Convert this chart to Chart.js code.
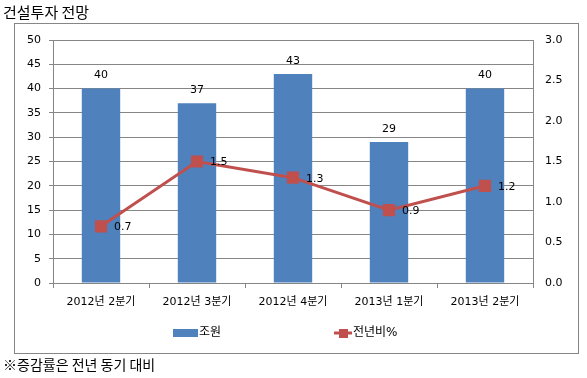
<!DOCTYPE html>
<html>
<head>
<meta charset="utf-8">
<script src="https://cdn.jsdelivr.net/npm/chart.js@4/dist/chart.umd.min.js"></script>
<style>
  body { margin: 0; background: #fff; }
  #wrap { position: relative; width: 587px; height: 378px; overflow: hidden; }
  #chart { position: absolute; left: 0; top: 0; }
  .txt { position: absolute; left: 3px; color: #000; font-family: "Noto Sans CJK KR", sans-serif; white-space: nowrap; }
  #title { top: 2px; font-size: 15px; line-height: 20px; }
  #note { top: 354px; font-size: 14px; line-height: 20px; }
</style>
</head>
<body>
<div id="wrap">
  <canvas id="chart" width="587" height="378"></canvas>
  <div id="title" class="txt">건설투자 전망</div>
  <div id="note" class="txt">※증감률은 전년 동기 대비</div>
</div>
<script>
// chart data
const quarters = ['2012년 2분기', '2012년 3분기', '2012년 4분기', '2013년 1분기', '2013년 2분기'];
const investment = [40, 37, 43, 29, 40];   // 조원
const yoyChange = [0.7, 1.5, 1.3, 0.9, 1.2]; // 전년비%

const BLUE = '#4f81bd';
const RED = '#c0504d';
const GRID = '#868686';
const FONT = '"DejaVu Sans", "Noto Sans CJK KR", sans-serif';

// frame, value labels and legend
const decor = {
  id: 'decor',
  beforeDraw(chart) {
    const ctx = chart.ctx;
    ctx.save();
    ctx.strokeStyle = GRID;
    ctx.lineWidth = 1;
    ctx.strokeRect(14.5, 23.5, 564, 330);
    ctx.restore();
  },
  afterDatasetsDraw(chart) {
    const ctx = chart.ctx;
    ctx.save();
    ctx.font = '11px ' + FONT;
    ctx.fillStyle = '#000';

    const pts = chart.getDatasetMeta(0).data;   // line
    const bars = chart.getDatasetMeta(1).data;  // bars
    ctx.textAlign = 'center';
    ctx.textBaseline = 'middle';
    bars.forEach((b, i) => ctx.fillText(String(investment[i]), b.x, b.y - 13));

    ctx.textAlign = 'left';
    pts.forEach((p, i) => ctx.fillText(yoyChange[i].toFixed(1), p.x + 13, p.y + 1));

    // legend
    const ly = 333;
    ctx.fillStyle = BLUE;
    ctx.fillRect(173, ly - 4, 25, 8);
    ctx.strokeStyle = RED;
    ctx.lineWidth = 3;
    ctx.beginPath();
    ctx.moveTo(334, ly);
    ctx.lineTo(352, ly);
    ctx.stroke();
    ctx.fillStyle = RED;
    ctx.fillRect(339, ly - 4, 9, 9);
    ctx.fillStyle = '#000';
    ctx.font = '12px ' + FONT;
    ctx.fillText('조원', 199, ly);
    ctx.fillText('전년비%', 353, ly);
    ctx.restore();
  }
};

new Chart(document.getElementById('chart'), {
  data: {
    labels: quarters,
    datasets: [
      {
        type: 'line',
        label: '전년비%',
        data: yoyChange,
        yAxisID: 'y1',
        borderColor: RED,
        backgroundColor: RED,
        borderWidth: 3,
        pointStyle: 'rect',
        pointRadius: 6.5,
        pointHoverRadius: 6.5,
        tension: 0,
        order: 0
      },
      {
        type: 'bar',
        label: '조원',
        data: investment,
        yAxisID: 'y',
        backgroundColor: BLUE,
        barPercentage: 0.4,
        categoryPercentage: 1,
        order: 1
      }
    ]
  },
  options: {
    responsive: false,
    animation: false,
    layout: { padding: { left: 0, right: 0, top: 40, bottom: 0 } },
    plugins: {
      legend: { display: false },
      tooltip: { enabled: false }
    },
    scales: {
      x: {
        offset: true,
        grid: { offset: true, drawOnChartArea: false, tickLength: 5, color: GRID },
        border: { color: GRID },
        ticks: { color: '#000', font: { size: 11, family: FONT }, padding: 8, maxRotation: 0 },
        afterFit(scale) { scale.height = 95; }
      },
      y: {
        position: 'left',
        min: 0,
        max: 50,
        ticks: { stepSize: 5, color: '#000', font: { size: 11, family: FONT }, padding: 8 },
        grid: { color: GRID, tickLength: 4 },
        border: { color: GRID },
        afterFit(scale) { scale.width = 53; }
      },
      y1: {
        position: 'right',
        min: 0,
        max: 3,
        ticks: { stepSize: 0.5, color: '#000', font: { size: 11, family: FONT }, padding: 12,
          callback: v => Number(v).toFixed(1) },
        grid: { drawOnChartArea: false, drawTicks: false },
        border: { color: GRID },
        afterFit(scale) { scale.width = 54; }
      }
    }
  },
  plugins: [decor]
});
</script>
</body>
</html>
